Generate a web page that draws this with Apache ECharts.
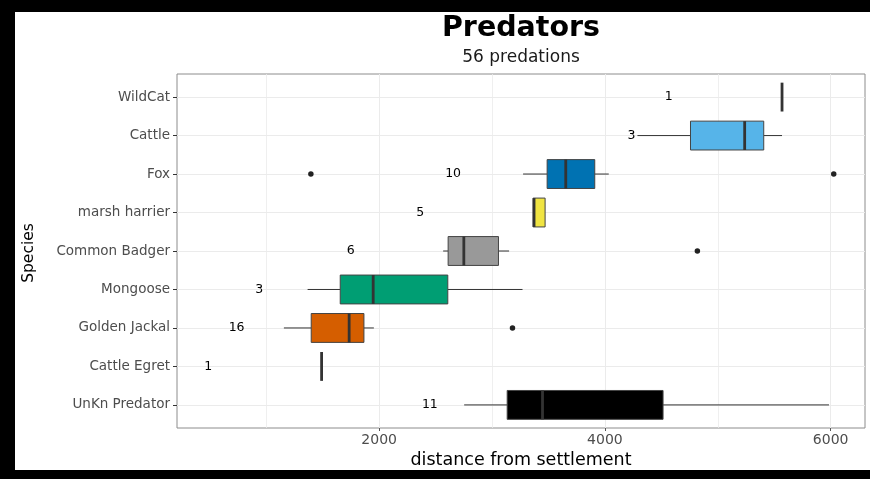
<!DOCTYPE html>
<html><head><meta charset="utf-8">
<script src="https://cdn.jsdelivr.net/npm/echarts@6/dist/echarts.min.js"></script>
<style>html,body{margin:0;padding:0;background:#fff}#c{width:870px;height:479px}</style>
</head><body><div id="c"></div><script>
// categories, top to bottom
const species = ['WildCat','Cattle','Fox','marsh harrier','Common Badger','Mongoose','Golden Jackal','Cattle Egret','UnKn Predator'];
const lowWhisker  = [5569, 4288, 3275, 3364, 2567, 1366, 1156, 1490, 2753];
const q1          = [5569, 4758, 3488, 3364, 2611, 1655, 1398, 1490, 3134];
const median      = [5569, 5238, 3653, 3372, 2750, 1947, 1734, 1490, 3447];
const q3          = [5569, 5407, 3910, 3470, 3057, 2608, 1865, 1490, 4515];
const highWhisker = [5569, 5569, 4034, 3470, 3151, 3270, 1953, 1490, 5985];
const outlierSpecies = ['Fox', 'Fox', 'Common Badger', 'Golden Jackal'];
const outlierValues  = [1395, 6027, 4819, 3181];
const countLabels = ['1', '3', '10', '5', '6', '3', '16', '1', '11'];
const countLabelX = [4565, 4235, 2655, 2363, 1749, 937, 737, 486, 2449];
const xTicks = [2000, 4000, 6000];
const xMinorGrid = [1000, 3000, 5000];
const fills = ['#333333','#56B4E9','#0072B2','#F0E442','#999999','#009E73','#D55E00','#333333','#000000'];

const FONT = '"DejaVu Sans", sans-serif';
const allVals = [].concat(lowWhisker, highWhisker, outlierValues, countLabelX);
const dMin = Math.min.apply(null, allVals), dMax = Math.max.apply(null, allVals);
const pad = (dMax - dMin) * 0.05;
const xMin = dMin - pad, xMax = dMax + pad;

const boxData = species.map((s, i) => [i, lowWhisker[i], q1[i], median[i], q3[i], highWhisker[i]]);
const outData = outlierSpecies.map((s, k) => [outlierValues[k], species.indexOf(s)]);
const lblData = species.map((s, i) => [countLabelX[i], i]);
const yIdx = species.map((s, i) => i);

const chart = echarts.init(document.getElementById('c'), null, {renderer: 'canvas'});
chart.setOption({
  backgroundColor: '#ffffff',
  animation: false,
  graphic: [
    {type: 'rect', shape: {x: 0, y: 0, width: 870, height: 12}, style: {fill: '#000'}, z: 100},
    {type: 'rect', shape: {x: 0, y: 0, width: 15, height: 479}, style: {fill: '#000'}, z: 100},
    {type: 'rect', shape: {x: 0, y: 470, width: 870, height: 9}, style: {fill: '#000'}, z: 100},
    {type: 'text', x: 521, y: 29, style: {text: 'Predators', font: 'bold 28.5px ' + FONT, fill: '#000', textAlign: 'center', textVerticalAlign: 'middle'}},
    {type: 'text', x: 521, y: 58, style: {text: '56 predations', font: '17px ' + FONT, fill: '#1a1a1a', textAlign: 'center', textVerticalAlign: 'middle'}},
    {type: 'text', x: 29, y: 253, rotation: Math.PI / 2, style: {text: 'Species', font: '15.5px ' + FONT, fill: '#000', textAlign: 'center', textVerticalAlign: 'middle'}}
  ],
  grid: {left: 177, right: 5, top: 74, bottom: 51, show: true, borderColor: '#8c8c8c', borderWidth: 1, backgroundColor: '#fff'},
  xAxis: [{
    type: 'value', min: xMin, max: xMax, gridIndex: 0, position: 'bottom',
    name: 'distance from settlement', nameLocation: 'middle', nameGap: 21,
    nameTextStyle: {fontFamily: FONT, fontSize: 17.5, color: '#000'},
    axisLine: {show: false, onZero: false},
    axisTick: {show: true, length: 3, lineStyle: {color: '#555'}, customValues: xTicks},
    axisLabel: {customValues: xTicks, formatter: v => String(v), fontFamily: FONT, fontSize: 14, color: '#4d4d4d', margin: 5},
    splitLine: {show: true, lineStyle: {color: '#ebebeb', width: 1}}
  }, {
    type: 'value', min: xMin, max: xMax, gridIndex: 0, position: 'bottom',
    axisLine: {show: false, onZero: false},
    axisTick: {show: false, customValues: xMinorGrid},
    axisLabel: {show: false, customValues: xMinorGrid},
    splitLine: {show: true, lineStyle: {color: '#ebebeb', width: 0.8}}
  }],
  yAxis: {
    type: 'value', min: -0.6, max: species.length - 0.4, inverse: true, position: 'left',
    axisLine: {show: false, onZero: false},
    axisTick: {show: true, length: 4, lineStyle: {color: '#333'}, customValues: yIdx},
    axisLabel: {customValues: yIdx, formatter: v => species[Math.round(v)], fontFamily: FONT, fontSize: 13.5, color: '#4d4d4d', margin: 7},
    splitLine: {show: true, lineStyle: {color: '#ebebeb', width: 1}}
  },
  series: [{
    type: 'custom',
    xAxisIndex: 0,
    data: boxData,
    z: 3,
    renderItem: function (params, api) {
      const i = api.value(0);
      const lo = api.coord([api.value(1), i]);
      const a = api.coord([api.value(2), i]);
      const m = api.coord([api.value(3), i]);
      const b = api.coord([api.value(4), i]);
      const hi = api.coord([api.value(5), i]);
      const step = Math.abs(api.coord([0, 1])[1] - api.coord([0, 0])[1]);
      const h = step * 0.75;
      const y = lo[1];
      const children = [];
      if (a[0] - lo[0] > 0.5) children.push({type: 'line', shape: {x1: lo[0], y1: y, x2: a[0], y2: y}, style: {stroke: '#333', lineWidth: 1}});
      if (hi[0] - b[0] > 0.5) children.push({type: 'line', shape: {x1: b[0], y1: y, x2: hi[0], y2: y}, style: {stroke: '#333', lineWidth: 1}});
      if (b[0] - a[0] > 0.5) children.push({type: 'rect', shape: {x: a[0], y: y - h / 2, width: b[0] - a[0], height: h}, style: {fill: fills[i], stroke: '#444', lineWidth: 1}});
      children.push({type: 'line', shape: {x1: m[0], y1: y - h / 2, x2: m[0], y2: y + h / 2}, style: {stroke: '#333', lineWidth: 2.8}});
      return {type: 'group', children: children};
    }
  }, {
    type: 'scatter',
    data: outData,
    symbolSize: 5.5,
    itemStyle: {color: '#222', opacity: 1},
    z: 4
  }, {
    type: 'custom',
    data: lblData,
    z: 5,
    renderItem: function (params, api) {
      const p = api.coord([api.value(0), api.value(1)]);
      return {type: 'text', x: p[0], y: p[1], style: {text: countLabels[params.dataIndex], font: '12.5px ' + FONT, fill: '#000', textAlign: 'center', textVerticalAlign: 'middle'}};
    }
  }]
});
</script></body></html>
